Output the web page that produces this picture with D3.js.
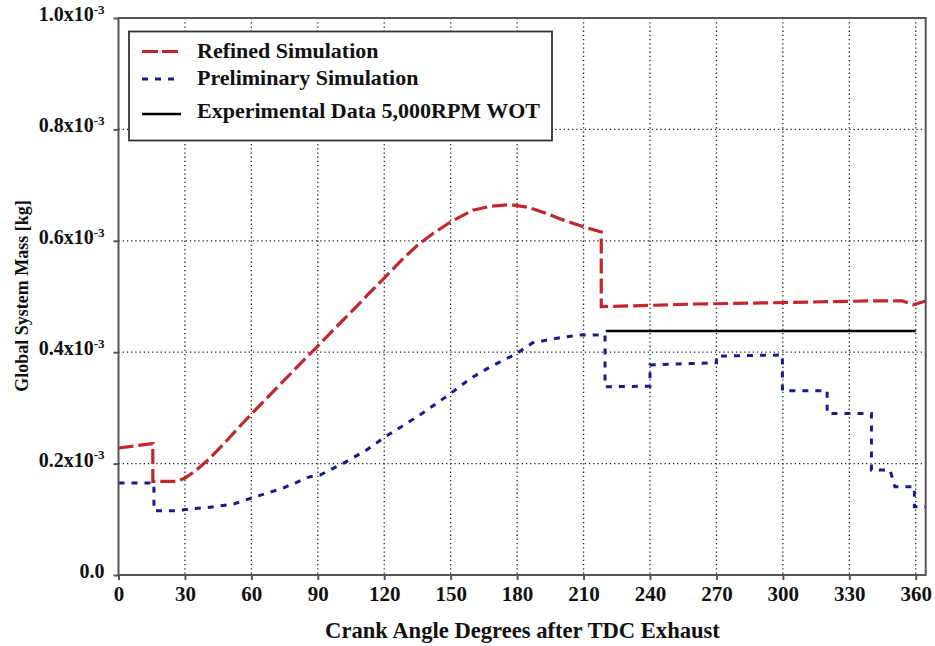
<!DOCTYPE html>
<html>
<head>
<meta charset="utf-8">
<script src="https://cdn.jsdelivr.net/npm/d3@7"></script>
<style>
  html, body { margin: 0; padding: 0; background: #fff; }
  svg { display: block; }
  text { font-family: "Liberation Serif", "Times New Roman", serif; font-weight: bold; fill: #111; }
</style>
</head>
<body>
<svg id="chart" width="935" height="646"></svg>
<script>
// Crank angle (deg after TDC exhaust) and global system mass (x10^-3 kg)
const refinedAngle = [0, 15.5, 15.5, 26, 30, 35, 40, 45, 50, 55, 61, 71, 83, 90, 97, 106, 113, 120, 128, 135, 142, 150, 160, 168, 177, 185, 192, 199, 210, 218, 218, 230, 261, 299, 338, 354, 359, 364.5];
const refinedMass  = [0.228, 0.236, 0.168, 0.168, 0.174, 0.188, 0.205, 0.225, 0.246, 0.268, 0.293, 0.334, 0.383, 0.411, 0.440, 0.476, 0.505, 0.533, 0.566, 0.592, 0.613, 0.634, 0.655, 0.662, 0.665, 0.660, 0.651, 0.640, 0.625, 0.616, 0.482, 0.483, 0.4865, 0.489, 0.492, 0.492, 0.485, 0.492];

const preliminaryAngle = [0, 16, 16, 26, 32, 40, 52, 61, 74, 86.5, 91, 101.5, 112, 121, 136, 150, 159, 168, 180, 187, 198, 208, 219.7, 219.7, 240, 240, 261, 270, 270, 299.8, 299.8, 320, 320, 340, 340, 348.4, 350.6, 359.4, 359.4, 364.5];
const preliminaryMass  = [0.165, 0.165, 0.1155, 0.1155, 0.1185, 0.121, 0.1275, 0.1395, 0.1556, 0.1765, 0.1795, 0.2005, 0.2244, 0.2495, 0.287, 0.326, 0.353, 0.374, 0.398, 0.417, 0.425, 0.431, 0.431, 0.338, 0.339, 0.377, 0.380, 0.381, 0.393, 0.395, 0.331, 0.331, 0.290, 0.290, 0.1885, 0.1885, 0.1585, 0.1585, 0.1226, 0.1226];

const experimentalAngle = [220, 360];
const experimentalMass  = [0.438, 0.438];

const xTicks = [0, 30, 60, 90, 120, 150, 180, 210, 240, 270, 300, 330, 360];
const yTicks = [0.0, 0.2, 0.4, 0.6, 0.8, 1.0];

const seriesNames = ["Refined Simulation", "Preliminary Simulation", "Experimental Data 5,000RPM WOT"];
const seriesColors = ["#c1272d", "#1b1b84", "#000000"];
const seriesDash = ["15,5", "6,7", null];

const svg = d3.select("#chart");
const plotLeft = 118.5, plotRight = 925.7, plotTop = 18, plotBottom = 575;

const x = d3.scaleLinear().domain([0, 364.5]).range([plotLeft, plotRight]);
const y = d3.scaleLinear().domain([0, 1]).range([plotBottom, plotTop]);

// dotted grid
const grid = svg.append("g");
grid.selectAll("line.v").data(xTicks.filter(d => d > 0)).join("line")
  .attr("x1", d => x(d)).attr("x2", d => x(d))
  .attr("y1", plotTop).attr("y2", plotBottom)
  .attr("stroke", "#222").attr("stroke-width", 1.3).attr("stroke-dasharray", "1.3,2.9");
grid.selectAll("line.h").data(yTicks.filter(d => d > 0 && d < 1)).join("line")
  .attr("x1", plotLeft).attr("x2", plotRight)
  .attr("y1", d => y(d)).attr("y2", d => y(d))
  .attr("stroke", "#222").attr("stroke-width", 1.3).attr("stroke-dasharray", "1.3,2.9");

// clip for the data lines
svg.append("clipPath").attr("id", "plotClip").append("rect")
  .attr("x", plotLeft).attr("y", plotTop).attr("width", plotRight - plotLeft).attr("height", plotBottom - plotTop);

const line = d3.line().x(d => x(d[0])).y(d => y(d[1]));
const plot = svg.append("g").attr("clip-path", "url(#plotClip)");

plot.append("path").datum(experimentalAngle.map((a, i) => [a, experimentalMass[i]]))
  .attr("d", line).attr("fill", "none").attr("stroke", seriesColors[2]).attr("stroke-width", 2.6);
plot.append("path").datum(preliminaryAngle.map((a, i) => [a, preliminaryMass[i]]))
  .attr("d", line).attr("fill", "none").attr("stroke", seriesColors[1]).attr("stroke-width", 3)
  .attr("stroke-dasharray", seriesDash[1]);
plot.append("path").datum(refinedAngle.map((a, i) => [a, refinedMass[i]]))
  .attr("d", line).attr("fill", "none").attr("stroke", seriesColors[0]).attr("stroke-width", 3.2)
  .attr("stroke-dasharray", seriesDash[0]);

// frame
svg.append("rect").attr("x", plotLeft).attr("y", plotTop).attr("width", plotRight - plotLeft).attr("height", plotBottom - plotTop)
  .attr("fill", "none").attr("stroke", "#555").attr("stroke-width", 2);

// x axis
const xAxis = svg.append("g").attr("transform", `translate(0,${plotBottom})`)
  .call(d3.axisBottom(x).tickValues(xTicks).tickSize(5).tickPadding(6).tickFormat(d3.format("d")));
xAxis.select(".domain").remove();
xAxis.selectAll(".tick line").attr("stroke", "#555").attr("stroke-width", 2);
xAxis.selectAll(".tick text").attr("font-size", 21).attr("font-family", null).attr("fill", "#111");

// y axis with x10^-3 labels
const yAxis = svg.append("g").attr("transform", `translate(${plotLeft},0)`)
  .call(d3.axisLeft(y).tickValues(yTicks).tickSize(5).tickPadding(9).tickFormat(""));
yAxis.select(".domain").remove();
yAxis.selectAll(".tick line").attr("stroke", "#555").attr("stroke-width", 2);
yAxis.selectAll(".tick text").each(function(d) {
  const t = d3.select(this).attr("font-size", 20).attr("font-family", null).attr("fill", "#111")
    .attr("dy", "0.12em");
  if (d === 0) {
    t.text("0.0");
  } else {
    t.append("tspan").text(d3.format(".1f")(d) + "x10");
    t.append("tspan").text("-3").attr("font-size", 13).attr("dy", "-0.55em");
  }
});

// axis titles
svg.append("text").attr("x", 522.5).attr("y", 638).attr("text-anchor", "middle")
  .attr("font-size", 22.6).text("Crank Angle Degrees after TDC Exhaust");
svg.append("text").attr("transform", "translate(28,296) rotate(-90)").attr("text-anchor", "middle")
  .attr("font-size", 18).text("Global System Mass [kg]");

// legend
const legend = svg.append("g");
legend.append("rect").attr("x", 129).attr("y", 31.5).attr("width", 423).attr("height", 109)
  .attr("fill", "#fff").attr("stroke", "#333").attr("stroke-width", 1.8);
const legendY = [51.5, 79, 114];
const legendText = [58, 85, 118];
seriesNames.forEach((name, i) => {
  legend.append("line").attr("x1", 142).attr("x2", 181).attr("y1", legendY[i]).attr("y2", legendY[i])
    .attr("stroke", seriesColors[i]).attr("stroke-width", i === 2 ? 2.6 : 3)
    .attr("stroke-dasharray", i === 0 ? "16,4" : seriesDash[i]);
  legend.append("text").attr("x", 197).attr("y", legendText[i]).attr("font-size", 22).text(name);
});
</script>
</body>
</html>
